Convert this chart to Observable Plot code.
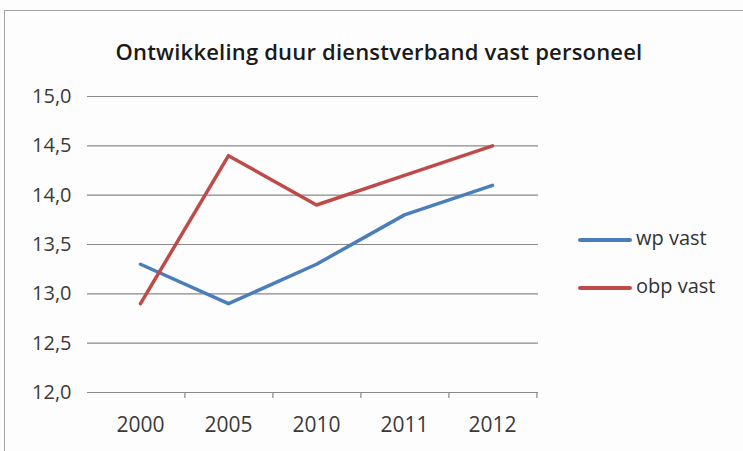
<!DOCTYPE html>
<html>
<head>
<meta charset="utf-8">
<script src="https://cdn.jsdelivr.net/npm/d3@7"></script>
<script src="https://cdn.jsdelivr.net/npm/@observablehq/plot@0.6"></script>
<style>
  html, body { margin: 0; padding: 0; background: #fff; }
  #wrap { position: relative; width: 743px; height: 451px; overflow: hidden; background: #fdfdfd; font-family: "Open Sans", sans-serif; }
  #frame { position: absolute; left: 4px; top: 10px; width: 800px; height: 500px; border: 1.5px solid #a3a3a3; box-sizing: border-box; }
  #title { position: absolute; left: 0; width: 758px; top: 36px; text-align: center; font-size: 22px; font-weight: 600; letter-spacing: 0.2px; color: #1a1a1a; white-space: nowrap; }
  #chart { position: absolute; left: 0; top: 0; }
  .leg { position: absolute; left: 578px; font-size: 20px; color: #333; white-space: nowrap; }
  .leg span.sw { display: inline-block; width: 54px; height: 4px; vertical-align: middle; margin-right: 4px; border-radius: 2px; }
</style>
</head>
<body>
<div id="wrap">
  <div id="frame"></div>
  <div id="chart"></div>
  <div id="title"></div>
  <div id="legend"></div>
</div>
<script>
const title = "Ontwikkeling duur dienstverband vast personeel";
const years = ["2000", "2005", "2010", "2011", "2012"];
const wpVast = [13.3, 12.9, 13.3, 13.8, 14.1];
const obpVast = [12.9, 14.4, 13.9, 14.2, 14.5];
const seriesNames = ["wp vast", "obp vast"];
const seriesColors = ["#4a7ebb", "#be4b48"];
const yTicks = [12.0, 12.5, 13.0, 13.5, 14.0, 14.5, 15.0];

const rows = [];
years.forEach((y, i) => {
  rows.push({year: y, value: wpVast[i], series: seriesNames[0]});
  rows.push({year: y, value: obpVast[i], series: seriesNames[1]});
});

const width = 743, height = 451;
const mLeft = 94, mRight = 205;
const step = (width - mLeft - mRight) / years.length;
const fmt = d => d.toFixed(1).replace(".", ",");

const plot = Plot.plot({
  width, height,
  marginLeft: mLeft, marginRight: mRight, marginTop: 96, marginBottom: 59,
  style: {background: "transparent", fontFamily: "Open Sans, sans-serif", color: "#3a3a3a"},
  x: {type: "point", domain: years, padding: 0.5, label: null},
  y: {domain: [12, 15], label: null},
  color: {domain: seriesNames, range: seriesColors},
  marks: [
    Plot.ruleY(yTicks, {stroke: "#8a8a8a", strokeWidth: 1.2, insetLeft: -7}),
    Plot.ruleX(years, {x: d => d, y1: 12, y2: 12, dx: step / 2, insetBottom: -6, insetTop: 0, stroke: "#8a8a8a", strokeWidth: 1.2}),
    Plot.axisY({ticks: yTicks, tickFormat: fmt, tickSize: 0, tickPadding: 23, fontSize: 20, fill: "#3a3a3a"}),
    Plot.axisX({tickSize: 0, tickPadding: 25, fontSize: 21, fill: "#3a3a3a"}),
    Plot.line(rows, {x: "year", y: "value", z: "series", stroke: "series", strokeWidth: 3.5, strokeLinejoin: "round", strokeLinecap: "round"})
  ]
});
document.getElementById("chart").appendChild(plot);
document.getElementById("title").textContent = title;

const legend = document.getElementById("legend");
const legTops = [224, 272];
seriesNames.forEach((name, i) => {
  const d = document.createElement("div");
  d.className = "leg";
  d.style.top = legTops[i] + "px";
  const sw = document.createElement("span");
  sw.className = "sw";
  sw.style.background = seriesColors[i];
  d.appendChild(sw);
  d.appendChild(document.createTextNode(name));
  legend.appendChild(d);
});
</script>
</body>
</html>
